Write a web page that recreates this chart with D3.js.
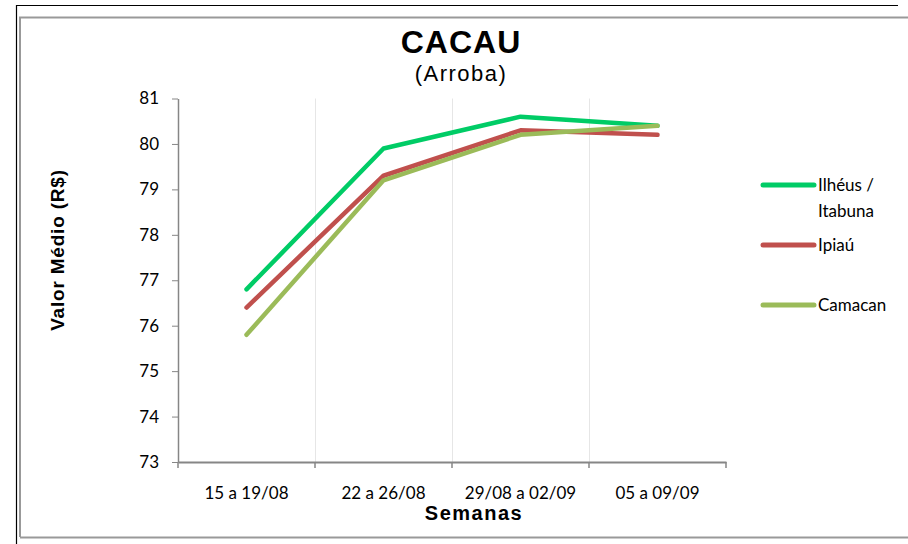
<!DOCTYPE html>
<html>
<head>
<meta charset="utf-8">
<script src="https://cdn.jsdelivr.net/npm/d3@7"></script>
<style>
  body { margin: 0; background: #fff; }
  svg text { font-family: "Open Sans", "Liberation Sans", sans-serif; }
</style>
</head>
<body>
<svg id="chart" width="908" height="544"></svg>
<script>
const weeks = ['15 a 19/08', '22 a 26/08', '29/08 a 02/09', '05 a 09/09']
const seriesNames = ['Ilhéus / Itabuna', 'Ipiaú', 'Camacan']
const ilheus = [76.8, 79.9, 80.6, 80.4]
const ipiau = [76.4, 79.3, 80.3, 80.2]
const camacan = [75.8, 79.2, 80.2, 80.4]
const yTicks = [73, 74, 75, 76, 77, 78, 79, 80, 81]
const colors = ['#00cc66', '#c0504d', '#9bbb59']

const series = [ilheus, ipiau, camacan].map((v, i) => ({ name: seriesNames[i], values: v, color: colors[i] }))

const svg = d3.select('#chart')

// outer frames
svg.append('path').attr('d', 'M16.5,544 V5.5 H898').attr('fill', 'none').attr('stroke', '#000').attr('stroke-width', 1.2)
svg.append('path').attr('d', 'M20,537 V17.5 H908 M20,537.5 H908').attr('fill', 'none').attr('stroke', '#999').attr('stroke-width', 2)

const plotL = 178, plotR = 726, plotT = 98.5, plotB = 462
const tickFont = 'Lato, "Open Sans", sans-serif'

const x = d3.scaleBand().domain(weeks).range([plotL, plotR])
const y = d3.scaleLinear().domain([73, 81]).range([plotB, plotT])

// vertical gridlines at category boundaries
svg.append('g').selectAll('line')
  .data(weeks.slice(1))
  .enter().append('line')
  .attr('x1', d => Math.round(x(d)) + 0.5)
  .attr('x2', d => Math.round(x(d)) + 0.5)
  .attr('y1', plotT)
  .attr('y2', plotB)
  .attr('stroke', '#e6e6e6')
  .attr('stroke-width', 1)

// y axis
const yAxis = svg.append('g')
  .attr('transform', `translate(${plotL},0)`)
  .call(d3.axisLeft(y).tickValues(yTicks).tickSize(6).tickSizeOuter(0).tickPadding(13))
yAxis.select('.domain').attr('stroke', '#868686').attr('stroke-width', 1.5)
yAxis.selectAll('.tick line').attr('stroke', '#868686')
yAxis.selectAll('.tick text').attr('font-size', 17).attr('fill', '#000')
  .style('font-family', tickFont)

// x axis
const xAxis = svg.append('g')
  .attr('transform', `translate(0,${plotB})`)
  .call(d3.axisBottom(x).tickSize(0).tickPadding(25))
xAxis.select('.domain').attr('stroke', '#868686').attr('stroke-width', 2)
xAxis.selectAll('.tick text').attr('font-size', 17).attr('fill', '#000')
  .style('font-family', tickFont)
// boundary ticks
svg.append('g').selectAll('line')
  .data(weeks.concat(['end']))
  .enter().append('line')
  .attr('x1', (d, i) => i < weeks.length ? x(d) : plotR)
  .attr('x2', (d, i) => i < weeks.length ? x(d) : plotR)
  .attr('y1', plotB)
  .attr('y2', plotB + 6)
  .attr('stroke', '#868686')
  .attr('stroke-width', 1.5)

// lines
const line = d3.line()
  .x((d, i) => x(weeks[i]) + x.bandwidth() / 2)
  .y(d => y(d))

svg.append('g').selectAll('path')
  .data(series)
  .enter().append('path')
  .attr('d', d => line(d.values))
  .attr('fill', 'none')
  .attr('stroke', d => d.color)
  .attr('stroke-width', 4.5)
  .attr('stroke-linecap', 'round')
  .attr('stroke-linejoin', 'round')

// titles
svg.append('text').attr('x', 461).attr('y', 53).attr('text-anchor', 'middle')
  .style('font-family', '"Liberation Sans", Arial, sans-serif')
  .attr('font-size', 32).attr('font-weight', 'bold').attr('letter-spacing', 1).text('CACAU')
svg.append('text').attr('x', 461).attr('y', 81).attr('text-anchor', 'middle')
  .style('font-family', '"Liberation Sans", Arial, sans-serif')
  .attr('font-size', 22).attr('letter-spacing', 1.5).text('(Arroba)')

svg.append('text')
  .attr('transform', 'translate(64,250) rotate(-90)')
  .attr('text-anchor', 'middle')
  .style('font-family', '"Liberation Sans", Arial, sans-serif')
  .attr('font-size', 19).attr('font-weight', 'bold').attr('letter-spacing', 0.8)
  .text('Valor Médio (R$)')

svg.append('text').attr('x', 474).attr('y', 520).attr('text-anchor', 'middle')
  .style('font-family', '"Liberation Sans", Arial, sans-serif')
  .attr('font-size', 20).attr('font-weight', 'bold').attr('letter-spacing', 1.5).text('Semanas')

// legend
const legendY = [185, 245, 305]
const lg = svg.append('g').selectAll('g')
  .data(series)
  .enter().append('g')
  .attr('transform', (d, i) => `translate(763,${legendY[i]})`)
lg.append('line').attr('x1', 0).attr('x2', 51).attr('y1', 0).attr('y2', 0)
  .attr('stroke', d => d.color).attr('stroke-width', 5).attr('stroke-linecap', 'round')
lg.append('text')
  .style('font-family', tickFont)
  .attr('font-size', 17)
  .attr('x', 55)
  .attr('y', 6)
  .each(function (d) {
    const parts = d.name === 'Ilhéus / Itabuna' ? ['Ilhéus /', 'Itabuna'] : [d.name]
    d3.select(this).selectAll('tspan').data(parts).enter().append('tspan')
      .attr('x', 55).attr('dy', (p, i) => i === 0 ? 0 : 26).text(p => p)
  })
</script>
</body>
</html>
